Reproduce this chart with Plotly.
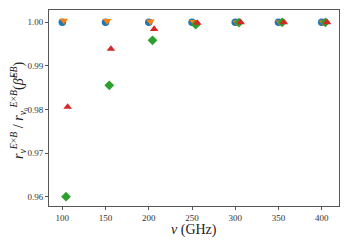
import plotly.graph_objects as go

freqs = [100, 150, 200, 250, 300, 350, 400]
blue_vals = [1.0, 1.0, 1.0, 1.0, 1.0, 1.0, 1.0]
orange_vals = [1.0004, 1.0003, 1.0002, 1.0001, 1.0, 1.0, 1.0]
green_vals = [0.9600, 0.98555, 0.99587, 0.99945, 0.99995, 1.0, 1.0]
red_vals = [0.9806, 0.99388, 0.99846, 0.99985, 1.0, 1.0, 1.0]

offsets = {"blue": 0.0, "orange": 1.8, "green": 4.3, "red": 6.2}
series = [
    ("blue", blue_vals, "#1f77b4", "circle"),
    ("orange", orange_vals, "#ff7f0e", "triangle-down"),
    ("green", green_vals, "#2ca02c", "diamond"),
    ("red", red_vals, "#d62728", "triangle-up"),
]

font_family = "Liberation Serif, DejaVu Serif, serif"

fig = go.Figure()
for name, vals, color, sym in series:
    fig.add_trace(go.Scatter(
        x=[f + offsets[name] for f in freqs], y=vals, mode="markers",
        marker=dict(color=color, symbol=sym, size=7.5, line=dict(width=0)),
        name=name, showlegend=False,
    ))

axis_common = dict(
    showline=True, mirror=True, linecolor="#555", linewidth=1,
    ticks="outside", ticklen=3, tickwidth=1, tickcolor="#555",
    showgrid=False, zeroline=False, automargin=False,
    tickfont=dict(family=font_family, size=9, color="#333"),
)
fig.update_xaxes(range=[84.6, 420], tickvals=[100, 150, 200, 250, 300, 350, 400], **axis_common)
fig.update_yaxes(range=[0.95787, 1.00282], tickvals=[0.96, 0.97, 0.98, 0.99, 1.00],
                 ticktext=["0.96", "0.97", "0.98", "0.99", "1.00"], **axis_common)

fig.add_annotation(
    text="<i>ν</i> (GHz)", xref="paper", yref="paper", x=0.5, y=0,
    xanchor="center", yanchor="top", yshift=-14, showarrow=False,
    font=dict(family=font_family, size=14, color="#222"),
)
fig.add_annotation(
    text="<i>r</i><sub><i>ν</i></sub><sup><i>E</i>×<i>B</i></sup> / <i>r</i><sub><i>ν</i>₀</sub><sup><i>E</i>×<i>B</i></sup>(<i>β̃</i><sup><i>EB</i></sup>)",
    xref="paper", yref="paper", x=0, y=0.49, xanchor="center", yanchor="middle",
    xshift=-31, textangle=-90, showarrow=False,
    font=dict(family=font_family, size=14, color="#222"),
)
fig.update_layout(
    width=342, height=237,
    margin=dict(l=41, r=11, t=2, b=39),
    paper_bgcolor="white", plot_bgcolor="white",
)
fig.write_html("out.html")
